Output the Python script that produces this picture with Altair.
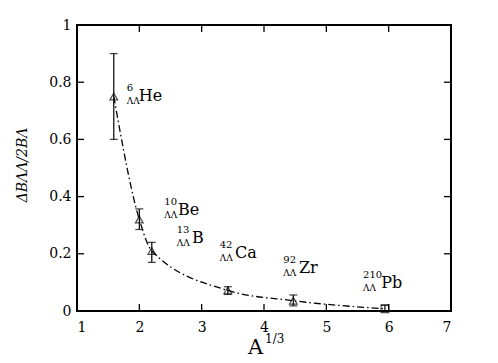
import altair as alt
import pandas as pd

# data
nuclei = ["He", "Be", "B", "Ca", "Zr", "Pb"]
masses = ["6", "10", "13", "42", "92", "210"]
a13 = [1.59, 2.0, 2.2, 3.42, 4.47, 5.94]
ratio = [0.75, 0.32, 0.21, 0.072, 0.036, 0.008]
err_lo = [0.60, 0.285, 0.17, 0.058, 0.018, 0.0]
err_hi = [0.90, 0.357, 0.24, 0.085, 0.056, 0.02]
shapes = ["triangle-up", "triangle-up", "triangle-up", "triangle-up", "triangle-up", "square"]

# label anchor positions (data coordinates)
lab_mass_x = [1.80, 2.40, 2.60, 3.29, 4.31, 5.59]
lab_name_x = [1.99, 2.62, 2.845, 3.535, 4.56, 5.88]
lab_y = [0.755, 0.357, 0.259, 0.206, 0.154, 0.101]

x_ticks = [1, 2, 3, 4, 5, 6, 7]
y_ticks = [0, 0.2, 0.4, 0.6, 0.8, 1.0]

W, H = 374, 286
FONT = "DejaVu Serif"

df = pd.DataFrame({"nuc": nuclei, "x": a13, "y": ratio, "lo": err_lo, "hi": err_hi, "shape": shapes})
labs = pd.DataFrame({"mass": masses, "nuc": nuclei, "mx": lab_mass_x, "nx": lab_name_x, "ly": lab_y})
xt = pd.DataFrame({"t": x_ticks})
yt = pd.DataFrame({"t": y_ticks})

xs = alt.Scale(domain=[1, 7], nice=False, zero=False)
ys = alt.Scale(domain=[0, 1], nice=False)

xax = alt.Axis(values=x_ticks, ticks=False, domain=False, grid=False, labelFont=FONT,
               labelFontSize=14, labelPadding=9, labelColor="black", title=None, format="d")
yax = alt.Axis(values=y_ticks, ticks=False, domain=False, grid=False, labelFont=FONT,
               labelFontSize=14, labelPadding=6, labelColor="black", title=None, format="~g")

base = alt.Chart(df)

line = base.mark_line(color="black", strokeWidth=1.3, strokeDash=[7, 3, 1.5, 3],
                      interpolate="monotone").encode(
    x=alt.X("x:Q", scale=xs, axis=xax), y=alt.Y("y:Q", scale=ys, axis=yax))

bars = base.mark_rule(color="black", strokeWidth=1.2).encode(
    x=alt.X("x:Q", scale=xs), y=alt.Y("lo:Q", scale=ys), y2="hi:Q")
cap_lo = base.mark_tick(color="black", orient="horizontal", size=8, thickness=1.3).encode(
    x=alt.X("x:Q", scale=xs), y=alt.Y("lo:Q", scale=ys))
cap_hi = base.mark_tick(color="black", orient="horizontal", size=8, thickness=1.3).encode(
    x=alt.X("x:Q", scale=xs), y=alt.Y("hi:Q", scale=ys))
pts = base.mark_point(color="black", filled=False, size=60, strokeWidth=1.2).encode(
    x=alt.X("x:Q", scale=xs), y=alt.Y("y:Q", scale=ys),
    shape=alt.Shape("shape:N", scale=None))

# inward ticks on all four sides
tb = alt.Chart(xt).mark_rule(color="black", strokeWidth=1.3).encode(
    x=alt.X("t:Q", scale=xs), y=alt.value(H), y2=alt.value(H - 7))
tt = alt.Chart(xt).mark_rule(color="black", strokeWidth=1.3).encode(
    x=alt.X("t:Q", scale=xs), y=alt.value(0), y2=alt.value(7))
tl = alt.Chart(yt).mark_rule(color="black", strokeWidth=1.3).encode(
    y=alt.Y("t:Q", scale=ys), x=alt.value(0), x2=alt.value(7))
tr = alt.Chart(yt).mark_rule(color="black", strokeWidth=1.3).encode(
    y=alt.Y("t:Q", scale=ys), x=alt.value(W - 7), x2=alt.value(W))

lb = alt.Chart(labs)
mass_t = lb.mark_text(font=FONT, fontSize=10, align="left", baseline="middle", dy=-7, color="black").encode(
    x=alt.X("mx:Q", scale=xs), y=alt.Y("ly:Q", scale=ys), text="mass:N")
lam_t = lb.mark_text(font=FONT, fontSize=9, align="left", baseline="middle", dy=6, color="black").encode(
    x=alt.X("mx:Q", scale=xs), y=alt.Y("ly:Q", scale=ys), text=alt.value("ΛΛ"))
name_t = lb.mark_text(font=FONT, fontSize=16, align="left", baseline="middle", dy=1, color="black").encode(
    x=alt.X("nx:Q", scale=xs), y=alt.Y("ly:Q", scale=ys), text="nuc:N")

# axis titles
one = pd.DataFrame({"a": [0]})
xt_main = alt.Chart(one).mark_text(font=FONT, fontSize=21, align="left", baseline="alphabetic",
                                   color="black").encode(
    x=alt.value(171), y=alt.value(H + 43), text=alt.value("A"))
xt_sup = alt.Chart(one).mark_text(font=FONT, fontSize=12, align="left", baseline="alphabetic",
                                  color="black").encode(
    x=alt.value(188), y=alt.value(H + 32), text=alt.value("1/3"))
yt_main = alt.Chart(one).mark_text(font=FONT, fontSize=14, fontStyle="italic",
                                   angle=270, align="center", baseline="middle", color="black").encode(
    x=alt.value(-54), y=alt.value(140), text=alt.value("ΔBΛΛ/2BΛ"))

chart = alt.layer(line, bars, cap_lo, cap_hi, pts, tb, tt, tl, tr, mass_t, lam_t, name_t,
                  xt_main, xt_sup, yt_main).properties(
    width=W, height=H, autosize=alt.AutoSizeParams(type="none"),
    padding={"left": 69, "top": 17, "right": 39, "bottom": 52},
    background="white"
).configure_view(stroke="black", strokeWidth=2)

chart.save("out.html", embed_options={"renderer": "svg", "actions": False})
